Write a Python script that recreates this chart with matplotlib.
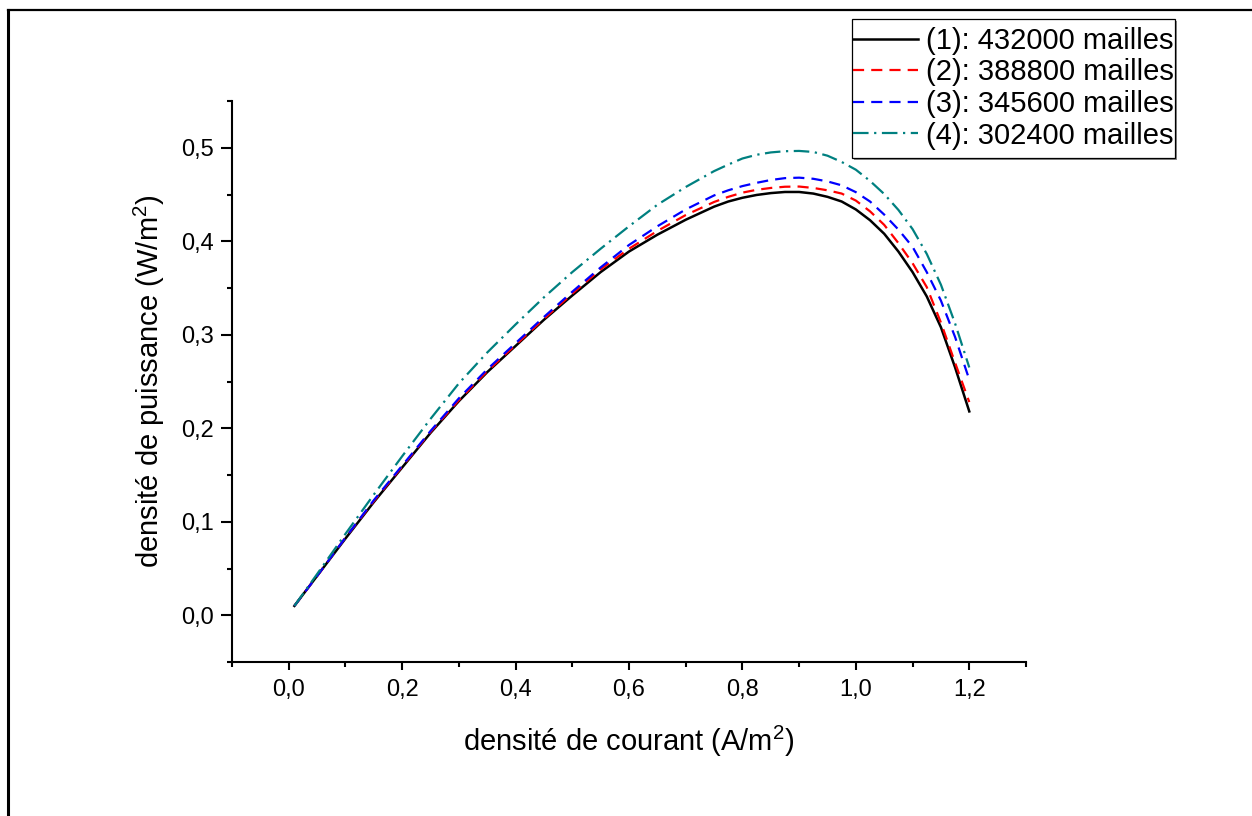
import numpy as np
import matplotlib
matplotlib.use('Agg')
import matplotlib.pyplot as plt
from matplotlib.lines import Line2D
from matplotlib.patches import Rectangle
from matplotlib.ticker import FuncFormatter, FixedLocator

plt.rcParams['font.family'] = ['Liberation Sans', 'DejaVu Sans']
plt.rcParams['mathtext.fontset'] = 'custom'
plt.rcParams['mathtext.rm'] = 'Liberation Sans'
plt.rcParams['mathtext.it'] = 'Liberation Sans:italic'
plt.rcParams['mathtext.bf'] = 'Liberation Sans:bold'

# current density (A/m2), shared by all meshes
courant = [0.01, 0.05, 0.1, 0.15, 0.2, 0.25, 0.3, 0.35, 0.4, 0.45, 0.5, 0.55, 0.6,
           0.65, 0.7, 0.75, 0.775, 0.8, 0.825, 0.85, 0.875, 0.9, 0.925, 0.95, 0.975,
           1.0, 1.025, 1.05, 1.075, 1.1, 1.125, 1.15, 1.175, 1.2]

# power density (W/m2) for each mesh
p_432000 = [0.010, 0.042, 0.082, 0.121, 0.158, 0.195, 0.229, 0.260, 0.288, 0.316, 0.342, 0.367,
            0.389, 0.407, 0.423, 0.437, 0.4425, 0.4465, 0.4495, 0.4515, 0.4527, 0.4527, 0.451,
            0.4475, 0.4425, 0.434, 0.4225, 0.408, 0.389, 0.367, 0.341, 0.308, 0.265, 0.218]
p_388800 = [0.010, 0.042, 0.083, 0.122, 0.159, 0.196, 0.230, 0.261, 0.289, 0.317, 0.344, 0.370,
            0.392, 0.411, 0.428, 0.442, 0.4475, 0.452, 0.455, 0.457, 0.4583, 0.4585, 0.457,
            0.4545, 0.451, 0.4435, 0.432, 0.4175, 0.398, 0.3765, 0.351, 0.313, 0.270, 0.228]
p_345600 = [0.010, 0.042, 0.083, 0.123, 0.160, 0.197, 0.232, 0.263, 0.291, 0.319, 0.346, 0.372,
            0.396, 0.416, 0.434, 0.449, 0.4545, 0.459, 0.4625, 0.4655, 0.4675, 0.468, 0.4668,
            0.464, 0.4598, 0.4525, 0.4425, 0.4285, 0.4125, 0.394, 0.367, 0.3365, 0.2975, 0.252]
p_302400 = [0.010, 0.044, 0.087, 0.129, 0.170, 0.210, 0.248, 0.281, 0.311, 0.340, 0.367, 0.392,
            0.416, 0.439, 0.458, 0.475, 0.482, 0.4885, 0.4925, 0.495, 0.4963, 0.4966, 0.4955,
            0.4915, 0.4848, 0.4765, 0.4645, 0.4505, 0.4335, 0.413, 0.3865, 0.3535, 0.312, 0.265]

labels = ['(1): 432000 mailles', '(2): 388800 mailles',
          '(3): 345600 mailles', '(4): 302400 mailles']

x_major = [0.0, 0.2, 0.4, 0.6, 0.8, 1.0, 1.2]
x_minor = [-0.1, 0.1, 0.3, 0.5, 0.7, 0.9, 1.1, 1.3]
y_major = [0.0, 0.1, 0.2, 0.3, 0.4, 0.5]
y_minor = [-0.05, 0.05, 0.15, 0.25, 0.35, 0.45, 0.55]

W, H = 1252, 816
fig = plt.figure(figsize=(W / 100, H / 100), dpi=100)
ax = fig.add_axes([232 / W, 1 - 662 / H, (1026 - 232) / W, (662 - 101) / H])

ax.plot(courant, p_432000, color='black', lw=1.8, label=labels[0])
ax.plot(courant, p_388800, color='#ff0000', lw=1.6, dashes=(5.0, 3.2), label=labels[1])
ax.plot(courant, p_345600, color='#0000ff', lw=1.6, dashes=(5.0, 3.2), label=labels[2])
ax.plot(courant, p_302400, color='#008080', lw=1.6, dashes=(7.0, 2.5, 1.0, 2.5), label=labels[3])

ax.set_xlim(-0.1, 1.3)
ax.set_ylim(-0.05, 0.55)
ax.xaxis.set_major_locator(FixedLocator(x_major))
ax.xaxis.set_minor_locator(FixedLocator(x_minor))
ax.yaxis.set_major_locator(FixedLocator(y_major))
ax.yaxis.set_minor_locator(FixedLocator(y_minor))
comma = FuncFormatter(lambda v, pos: f"{v:.1f}".replace('.', ','))
ax.xaxis.set_major_formatter(comma)
ax.yaxis.set_major_formatter(comma)

for side in ['top', 'right']:
    ax.spines[side].set_visible(False)
for side in ['left', 'bottom']:
    ax.spines[side].set_linewidth(1.5)

ax.tick_params(axis='both', which='both', direction='out', width=1.5, labelsize=17)
ax.tick_params(axis='x', which='major', length=6, pad=6)
ax.tick_params(axis='y', which='major', length=8, pad=5)
ax.tick_params(axis='both', which='minor', length=3.6)

ax.set_xlabel('densité de courant (A/m$^{2}$)', fontsize=21, labelpad=17)
ax.set_ylabel('densité de puissance (W/m$^{2}$)', fontsize=21, labelpad=10)

leg = fig.legend(loc='upper right', bbox_to_anchor=(1174 / W, 1 - 27 / H),
                 bbox_transform=fig.transFigure, borderaxespad=0, borderpad=0,
                 frameon=False, fontsize=21, handlelength=2.23, handletextpad=0.27,
                 labelspacing=0.12)

# legend frame with a small grey shadow, tight on the sides
fig.canvas.draw()
bb = leg.get_window_extent()
padv, padh = 8, 1
inv = fig.transFigure.inverted()
fx0, fy0 = inv.transform((bb.x0 - padh, bb.y0 - padv))
fx1, fy1 = inv.transform((bb.x1 + padh, bb.y1 + padv))
fig.add_artist(Rectangle((fx0 + 2 / W, fy0 - 2 / H), fx1 - fx0, fy1 - fy0,
                         transform=fig.transFigure, facecolor='0.55',
                         edgecolor='none', zorder=3))
fig.add_artist(Rectangle((fx0, fy0), fx1 - fx0, fy1 - fy0,
                         transform=fig.transFigure, facecolor='white',
                         edgecolor='black', lw=0.9, zorder=3.1))

# page border (left and top)
fig.add_artist(Line2D([8 / W, 8 / W], [0, 1 - 10 / H], color='black', lw=2.2))
fig.add_artist(Line2D([8 / W, 1], [1 - 10 / H, 1 - 10 / H], color='black', lw=1.6))

fig.savefig('out.png', dpi=100)
